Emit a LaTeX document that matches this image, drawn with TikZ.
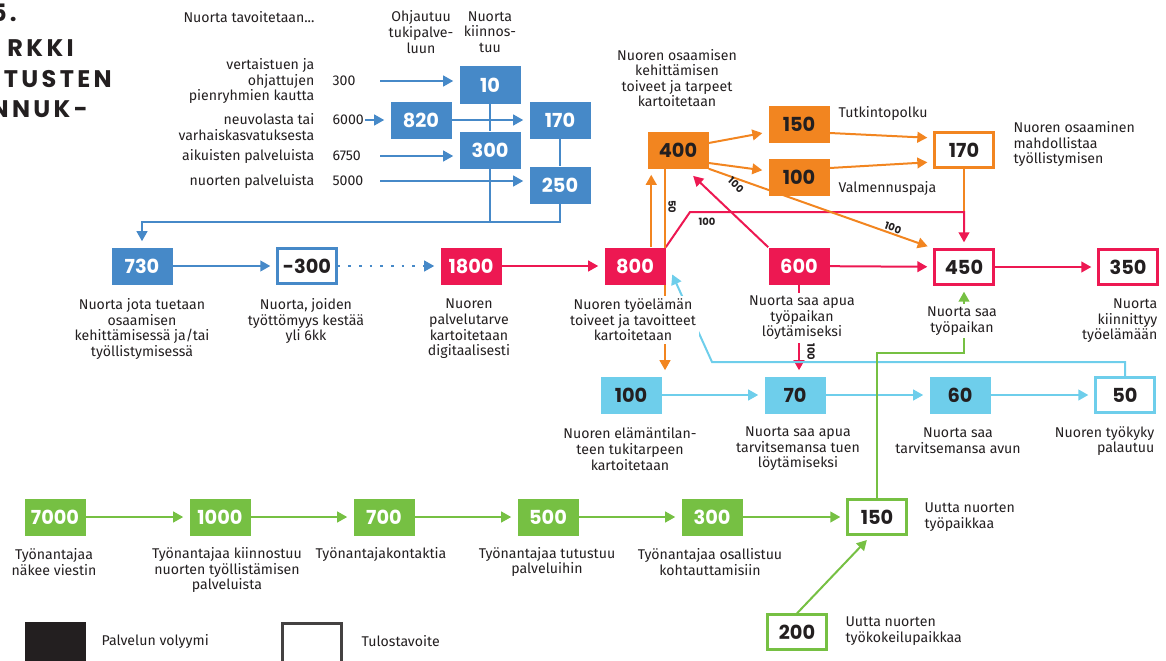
\documentclass[tikz,border=0pt]{standalone}
\usepackage{fontspec}
\setmainfont{Fira Sans}
\newfontfamily\numfont{Poppins}
\newfontfamily\titlefont{Poppins}[LetterSpace=14]
\usetikzlibrary{arrows.meta,calc,backgrounds}
\definecolor{kblue}{RGB}{70,137,200}
\definecolor{kred}{RGB}{237,24,82}
\definecolor{korange}{RGB}{242,133,32}
\definecolor{kcyan}{RGB}{110,206,235}
\definecolor{kgreen}{RGB}{118,192,67}
\definecolor{kdark}{RGB}{35,31,32}
\tikzset{
  vol/.style={fill=#1, minimum width=45.75pt, minimum height=27.75pt, inner sep=0pt, text=white, font=\numfont\bfseries\fontsize{14.5}{15}\selectfont},
  vold/.style={vol=#1, text=kdark},
  goal/.style={draw=#1, fill=white, line width=2pt, minimum width=44pt, minimum height=26pt, inner sep=0pt, text=kdark, font=\numfont\bfseries\fontsize{14.5}{15}\selectfont},
  lbl/.style={font=\fontsize{10.6}{11.7}\selectfont, text=kdark, align=center, inner sep=1pt},
  lblw/.style={lbl, fill=white, inner sep=2pt},
  ttl/.style={font=\titlefont\bfseries\fontsize{18}{18}\selectfont, text=kdark, inner sep=0pt},
  cnt/.style={font=\numfont\bfseries\fontsize{7.5}{8}\selectfont, text=kdark, inner sep=0pt},
  flow/.style={-{Triangle[length=7.5pt,width=8pt]}, line width=1.5pt, shorten >=4.5pt},
  link/.style={line width=1.5pt}
}
\begin{document}
\begin{tikzpicture}[x=0.75pt, y=-0.75pt]
    \useasboundingbox (0,0) rectangle (1166,660);

    \node[ttl, anchor=east] (t1) at (17,13) {5.};
    \node[ttl, anchor=east] (t2) at (74,48) {RKKI};
    \node[ttl, anchor=east] (t3) at (112,79) {TUSTEN};
    \node[ttl, anchor=east] (t4) at (88,109) {NNUK-};

    \node[lbl] (hsrc) at (249,17) {Nuorta tavoitetaan...};
    \node[lbl] (hohj) at (421,32) {Ohjautuu\\tukipalve-\\luun};
    \node[lbl] (hkiin) at (490,32) {Nuorta\\kiinnos-\\tuu};

    \node[lbl, align=right, anchor=east] (s1) at (316,81) {vertaistuen ja\\ohjattujen\\pienryhmien kautta};
    \node[lbl, align=right, anchor=east] (s2) at (316,127) {neuvolasta tai\\varhaiskasvatuksesta};
    \node[lbl, anchor=east] (s3) at (316,156) {aikuisten palveluista};
    \node[lbl, anchor=east] (s4) at (316,181) {nuorten palveluista};
    \node[lbl, anchor=west] (n1) at (331,81) {300};
    \node[lbl, anchor=west] (n2) at (331,120) {6000};
    \node[lbl, anchor=west] (n3) at (331,156) {6750};
    \node[lbl, anchor=west] (n4) at (331,181) {5000};
    \coordinate (srcx) at (380,0);

    \node[vol=kblue] (b10) at (490,85) {10};
    \node[vol=kblue] (b820) at (421,120) {820};
    \node[vol=kblue] (b170) at (560,120) {170};
    \node[vol=kblue] (b300) at (490,150) {300};
    \node[vol=kblue] (b250) at (560,185) {250};
    \node[vol=kblue] (b730) at (142,266) {730};
    \node[goal=kblue] (g300) at (307,266) {-300};
    \coordinate (bjoin) at (560,222);

    \node[vol=kred] (r1800) at (471,266) {1800};
    \node[vol=kred] (r800) at (635,266) {800};
    \node[vol=kred] (r600) at (799,266) {600};
    \node[goal=kred] (g450) at (964,267) {450};
    \node[goal=kred] (g350) at (1128,267) {350};
    \coordinate (rjoin) at (690,212);

    \node[vold=korange] (o400) at (678,150) {400};
    \node[vold=korange] (o150) at (799,124) {150};
    \node[vold=korange] (o100) at (799,177) {100};
    \node[goal=korange] (g170) at (964,150) {170};
    \coordinate (oup) at ($(o400.south west)+(4,0)$);
    \coordinate (odown) at ($(o400.south)+(-13,0)$);

    \node[vold=kcyan] (c100) at (631,395) {100};
    \node[vold=kcyan] (c70) at (795,395) {70};
    \node[vold=kcyan] (c60) at (960,395) {60};
    \node[goal=kcyan] (g50) at (1125,395) {50};
    \coordinate (cjoin) at (712,362);

    \node[vol=kgreen] (e7000) at (55,517) {7000};
    \node[vol=kgreen] (e1000) at (220,517) {1000};
    \node[vol=kgreen] (e700) at (384,517) {700};
    \node[vol=kgreen] (e500) at (548,517) {500};
    \node[vol=kgreen] (e300) at (712,517) {300};
    \node[goal=kgreen] (g150) at (877,517) {150};
    \node[goal=kgreen] (g200) at (797,632) {200};
    \coordinate (gjoin) at (878,353);

    \node[lbl] (l730) at (142,329) {Nuorta jota tuetaan\\osaamisen\\kehittämisessä ja/tai\\työllistymisessä};
    \node[lbl] (l300) at (306,321) {Nuorta, joiden\\työttömyys kestää\\yli 6kk};
    \node[lbl] (l1800) at (469,329) {Nuoren\\palvelutarve\\kartoitetaan\\digitaalisesti};
    \node[lblw] (l800) at (633,320) {Nuoren työelämän\\toiveet ja tavoitteet\\kartoitetaan};
    \node[lblw] (l600) at (802,318) {Nuorta saa apua\\työpaikan\\löytämiseksi};
    \node[lblw] (l450) at (962,321) {Nuorta saa\\työpaikan};
    \node[lbl, align=right, anchor=east] (l350) at (1159,321) {Nuorta\\kiinnittyy\\työelämään};
    \node[lbl] (l400) at (677,78) {Nuoren osaamisen\\kehittämisen\\toiveet ja tarpeet\\kartoitetaan};
    \node[lbl, anchor=west] (l150) at (837,113) {Tutkintopolku};
    \node[lbl, anchor=west] (lval) at (837,188) {Valmennuspaja};
    \node[lbl, align=left, anchor=west] (l170) at (1012,144) {Nuoren osaaminen\\mahdollistaa\\työllistymisen};
    \node[lbl] (lc100) at (630,449) {Nuoren elämäntilan-\\teen tukitarpeen\\kartoitetaan};
    \node[lbl] (lc70) at (798,449) {Nuorta saa apua\\tarvitsemansa tuen\\löytämiseksi};
    \node[lbl] (lc60) at (958,441) {Nuorta saa\\tarvitsemansa avun};
    \node[lbl, align=right, anchor=east] (lc50) at (1156,441) {Nuoren työkyky\\palautuu};
    \node[lbl] (le7000) at (54,562) {Työnantajaa\\näkee viestin};
    \node[lbl] (le1000) at (227,570) {Työnantajaa kiinnostuu\\nuorten työllistämisen\\palveluista};
    \node[lbl] (le700) at (381,554) {Työnantajakontaktia};
    \node[lbl] (le500) at (547,562) {Työnantajaa tutustuu\\palveluihin};
    \node[lbl] (le300) at (710,562) {Työnantajaa osallistuu\\kohtauttamisiin};
    \node[lbl, align=left, anchor=west] (lg150) at (923,517) {Uutta nuorten\\työpaikkaa};
    \node[lbl, align=left, anchor=west] (lg200) at (844,631) {Uutta nuorten\\työkokeilupaikkaa};

    \node[cnt, rotate=-90] (k50) at (672,207) {50};
    \node[cnt] (k1) at (707,222) {100};
    \node[cnt, rotate=-43] (k2) at (736,185) {100};
    \node[cnt, rotate=-20] (k3) at (893,228) {100};
    \node[cnt, rotate=-90] (k4) at (811,352) {100};

    \node[vol=kdark, minimum height=33pt] (lvol) at (55,644) {};
    \node[lbl, anchor=west] (tvol) at (100,641) {Palvelun volyymi};
    \node[goal=kdark!85, minimum height=31pt] (lgoal) at (312,644) {};
    \node[lbl, anchor=west] (tgoal) at (360,641) {Tulostavoite};

    \begin{pgfonlayer}{background}
    \draw[flow, kblue] (n1.east -| srcx) -- (n1.east -| b10.west);
    \draw[flow, kblue] (n2.east) -- (b820.west);
    \draw[flow, kblue] (n3.east -| srcx) -- (n3.east -| b300.west);
    \draw[flow, kblue] (n4.east -| srcx) -- (n4.east -| b250.west);
    \draw[flow, kblue] (b820) -- (b170);
    \draw[link, kblue] (b10) -- (b300);
    \draw[link, kblue] (b300.south) -- (b300.south |- bjoin);
    \draw[link, kblue] (b170) -- (b250);
    \draw[flow, kblue] (b250.south) -- (bjoin) -| (b730.north);
    \draw[flow, kblue] (b730) -- (g300);
    \draw[flow, kblue, dash pattern=on 2pt off 6pt] (g300) -- (r1800);

    \draw[flow, kred] (r1800) -- (r800);
    \draw[link, korange] (g170) -- (g170.south |- rjoin);
    \draw[flow, kred] (r800.north east) -- (rjoin) -| (g450.north);
    \draw[flow, kred] (r600.north west) -- ($(o400.south east)+(-20,3)$);
    \draw[flow, kred] (r600) -- (g450);
    \draw[flow, kred] (g450) -- (g350);
    \draw[flow, kred] (r600.south) -- (r600.south |- c70.north);

    \draw[flow, korange] (oup |- r800.north) -- (oup);
    \draw[flow, korange] (odown) -- (odown |- c100.north);
    \draw[flow, korange] ($(o400.east)+(0,-7)$) -- ($(o150.west)+(0,8)$);
    \draw[flow, korange] ($(o400.east)+(0,13)$) -- ($(o100.west)+(0,-6)$);
    \draw[flow, korange] (o400.south east) -- (g450.north west);
    \draw[flow, korange] ($(o150.east)+(0,9)$) -- ($(g170.west)+(0,-12)$);
    \draw[flow, korange] ($(o100.east)+(0,-9)$) -- ($(g170.west)+(0,12)$);

    \draw[flow, kcyan] (c100) -- (c70);
    \draw[flow, kcyan] (c70) -- (c60);
    \draw[flow, kcyan] (c60) -- (g50);
    \draw[flow, kcyan] (g50.north) |- (cjoin) -- ($(r800.east)+(4,3)$);

    \draw[flow, kgreen] (e7000) -- (e1000);
    \draw[flow, kgreen] (e1000) -- (e700);
    \draw[flow, kgreen] (e700) -- (e500);
    \draw[flow, kgreen] (e500) -- (e300);
    \draw[flow, kgreen] (e300) -- (g150);
    \draw[flow, kgreen] (g200.north) -- ($(g150.south)+(-6,0)$);
    \draw[flow, kgreen] (g150.north) -- (g150.north |- gjoin) -| (g450.south);
    \end{pgfonlayer}
  \end{tikzpicture}
\end{document}
